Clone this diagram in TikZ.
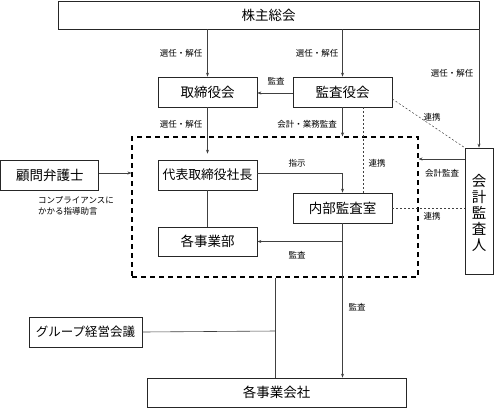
\documentclass[tikz,border=0pt]{standalone}
\usepackage{fontspec}
\setmainfont{Noto Sans CJK JP}
\usetikzlibrary{arrows.meta}
\begin{document}
\begin{tikzpicture}[x=1pt,y=-1pt,
  box/.style={draw=black!85,line width=0.7pt,inner sep=0pt,font=\fontsize{13.5}{14}\selectfont},
  lbl/.style={font=\fontsize{8.5}{10}\selectfont,inner sep=0pt},
  conn/.style={draw=black!75,line width=0.6pt},
  arr/.style={conn,-{Stealth[length=4pt,width=3pt]}},
  dconn/.style={draw=black!75,line width=0.5pt,dash pattern=on 2pt off 2pt},
  dbox/.style={draw=black,line width=1.1pt,dash pattern=on 5pt off 4pt,inner sep=0pt}]
\useasboundingbox (0,0) rectangle (494,408);
% boxes
\node[box,minimum width=421,minimum height=28] (sh) at (268.5,15) {株主総会};
\node[box,minimum width=99,minimum height=30] (tori) at (207.5,92) {取締役会};
\node[box,minimum width=99,minimum height=30] (kansa) at (342.5,92) {監査役会};
\node[dbox,minimum width=286,minimum height=140] (db) at (275,207) {};
\node[box,minimum width=98,minimum height=30] (lawyer) at (49.8,175) {顧問弁護士};
\node[box,minimum width=99,minimum height=30,font=\fontsize{12.8}{14}\selectfont] (ceo) at (207.5,175) {代表取締役社長};
\node[box,minimum width=99,minimum height=30] (naibu) at (342.5,208) {内部監査室};
\node[box,minimum width=99,minimum height=29] (jigyobu) at (207.5,241.5) {各事業部};
\node[box,minimum width=28,minimum height=126] (kaikei) at (479,211) {};
\node[font=\fontsize{14.5}{16}\selectfont,align=center,inner sep=0pt] (kaikeitxt) at (479,213) {会\\計\\監\\査\\人};
\node[box,minimum width=113,minimum height=30,font=\fontsize{12.5}{14}\selectfont] (group) at (85.5,332) {グループ経営会議};
\node[box,minimum width=259,minimum height=29] (kaisha) at (276.5,392.5) {各事業会社};
% connectors
\draw[arr] (tori.north |- sh.south) -- (tori.north);
\draw[arr] (kansa.north |- sh.south) -- (kansa.north);
\draw[arr] (kaikei.north |- sh.south) -- (kaikei.north);
\draw[arr] ([yshift=-1pt]kansa.west) -- ([yshift=-1pt]tori.east);
\draw[arr,shorten >=6pt] (tori.south) -- (ceo.north);
\draw[arr] (kansa.south) -- (kansa.south |- db.north);
\draw[dconn] ([xshift=20.5pt]kansa.south) -- ([xshift=20.5pt]naibu.north);
\draw[dconn] ([yshift=-7pt]kansa.east) -- (kaikei.north west);
\draw[arr] ([yshift=2pt]lawyer.east) -- ([yshift=2pt]lawyer.east -| db.west);
\draw[arr] ([yshift=2pt]ceo.east) -| (naibu.north);
\draw[conn] (ceo.south) -- (jigyobu.north);
\draw[arr] (naibu.south) -- (naibu.south |- kaisha.north);
\draw[arr] (naibu.south |- jigyobu.east) -- (jigyobu.east);
\draw[dconn] (naibu.east) -- (naibu.east -| kaikei.west);
\draw[arr] ([yshift=52pt]kaikei.west) -- ([yshift=52pt]kaikei.west -| db.east);
\coordinate (jn) at (275,331);
\draw[conn] (kaisha.north -| jn) -- (jn |- db.south);
\draw[conn] (group.east) -- (jn);
% labels
\node[lbl] (l1) at (181,53) {選任・解任};
\node[lbl] (l2) at (317,53) {選任・解任};
\node[lbl] (l3) at (452,73) {選任・解任};
\node[lbl] (l4) at (276,81) {監査};
\node[lbl] (l5) at (181,124) {選任・解任};
\node[lbl] (l6) at (307,124) {会計・業務監査};
\node[lbl] (l7) at (432,117) {連携};
\node[lbl] (l8) at (297,163) {指示};
\node[lbl] (l9) at (377,163) {連携};
\node[lbl] (l10) at (442,173) {会計監査};
\node[lbl] (l11) at (432,216) {連携};
\node[lbl,align=left,anchor=north west,font=\fontsize{8.5}{11.5}\selectfont] (l12) at (38,196) {コンプライアンスに\\かかる指導助言};
\node[lbl] (l13) at (297,255) {監査};
\node[lbl] (l14) at (357,307) {監査};
\end{tikzpicture}
\end{document}
